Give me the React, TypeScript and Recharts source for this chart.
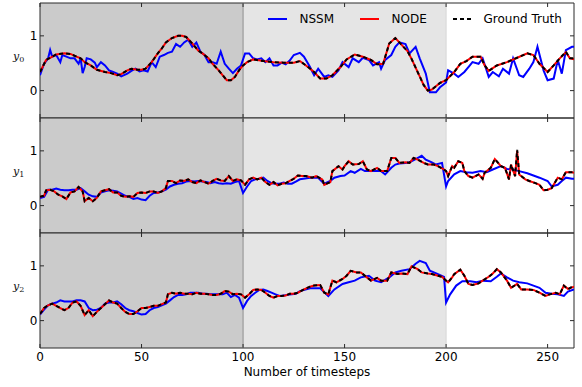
import React from 'react';
import { LineChart, Line, XAxis, YAxis, ReferenceArea, ReferenceLine } from 'recharts';

// ---------- data: [timestep, value] ----------
const X_TICKS = [0, 50, 100, 150, 200, 250];
const Y_TICKS = [0, 1];
const PANEL_LABELS = ['0', '1', '2'];
const SERIES_NAMES = ['NSSM', 'NODE', 'Ground Truth'];

const y0Truth: number[][] = [[0,.34],[3,.56],[5,.60],[8,.66],[12,.68],[15,.67],[18,.62],[20,.59],[22,.52],[25,.46],[28,.38],[32,.34],[35,.32],[38,.28],[40,.30],[43,.37],[45,.40],[48,.38],[50,.38],[52,.40],[55,.52],[58,.68],[60,.77],[62,.88],[65,.96],[68,1.0],[70,1.0],[72,.98],[75,.86],[78,.73],[80,.68],[83,.59],[85,.49],[88,.37],[90,.28],[92,.19],[94,.19],[96,.25],[98,.37],[100,.46],[102,.52],[105,.57],[110,.54],[115,.52],[120,.51],[125,.51],[128,.54],[131,.46],[135,.34],[138,.22],[141,.22],[144,.28],[148,.43],[151,.57],[155,.66],[159,.62],[163,.56],[166,.48],[169,.49],[172,.86],[175,.96],[177,.88],[179,.80],[181,.72],[183,.58],[185,.42],[187,.26],[189,.10],[191,.0],[193,.02],[195,.08],[197,.14],[200,.19],[204,.34],[207,.49],[210,.54],[213,.62],[217,.62],[219,.46],[221,.36],[225,.46],[230,.52],[235,.60],[240,.68],[243,.65],[246,.49],[250,.34],[253,.46],[256,.59],[259,.71],[261,.59],[263,.59]];
const y0Node: number[][] = [[0,.34],[3,.56],[5,.60],[8,.66],[12,.68],[15,.67],[18,.62],[20,.59],[22,.52],[25,.46],[28,.38],[32,.34],[35,.32],[38,.28],[40,.30],[43,.37],[45,.40],[48,.38],[50,.38],[52,.40],[55,.52],[58,.68],[60,.77],[62,.88],[65,.96],[68,1.0],[70,1.0],[72,.98],[75,.86],[78,.73],[80,.68],[83,.59],[85,.49],[88,.37],[90,.28],[92,.19],[94,.19],[96,.25],[98,.37],[100,.46],[102,.52],[105,.57],[110,.54],[115,.52],[120,.51],[125,.51],[128,.54],[131,.46],[135,.34],[138,.22],[141,.22],[144,.28],[148,.43],[151,.57],[155,.66],[159,.62],[163,.56],[166,.48],[169,.49],[172,.86],[175,.96],[177,.88],[179,.80],[181,.72],[183,.58],[185,.42],[187,.26],[189,.10],[191,.0],[193,.02],[195,.08],[197,.14],[200,.19],[204,.34],[207,.49],[210,.54],[213,.62],[217,.62],[219,.46],[221,.36],[225,.46],[230,.52],[235,.60],[240,.68],[243,.65],[246,.49],[250,.34],[253,.46],[256,.59],[259,.70],[261,.59],[263,.57]];
const y0Nssm: number[][] = [[0,.28],[2,.49],[4,.59],[5,.74],[6,.62],[8,.65],[10,.52],[11,.65],[13,.62],[15,.59],[17,.59],[19,.49],[20,.59],[21,.32],[22,.43],[23,.59],[25,.57],[27,.51],[28,.43],[30,.52],[32,.46],[34,.37],[36,.34],[38,.31],[40,.26],[43,.31],[45,.36],[47,.40],[49,.35],[51,.37],[53,.35],[55,.52],[57,.43],[59,.62],[61,.65],[63,.69],[65,.71],[67,.85],[69,.80],[71,.88],[73,.93],[75,.80],[77,.88],[79,.71],[81,.65],[83,.52],[85,.52],[87,.49],[89,.71],[91,.49],[93,.40],[95,.32],[97,.40],[99,.46],[101,.68],[103,.68],[105,.59],[107,.57],[109,.59],[111,.52],[113,.59],[115,.46],[117,.46],[119,.51],[121,.48],[123,.55],[125,.65],[128,.69],[130,.62],[133,.43],[135,.28],[137,.40],[140,.25],[142,.28],[144,.25],[147,.37],[149,.52],[152,.43],[154,.59],[157,.52],[159,.60],[162,.56],[164,.46],[167,.52],[168,.40],[170,.56],[173,.65],[175,.80],[177,.88],[180,.85],[182,.68],[185,.80],[187,.59],[190,.31],[192,-.03],[195,-.03],[197,.06],[200,.15],[201,.37],[204,.31],[206,.25],[209,.34],[211,.43],[213,.52],[216,.49],[218,.59],[221,.25],[223,.34],[226,.26],[228,.40],[231,.31],[233,.59],[236,.28],[238,.25],[241,.40],[243,.52],[245,.80],[248,.37],[250,.19],[253,.22],[255,.56],[257,.31],[259,.74],[262,.80],[263,.80]];

const y1Truth: number[][] = [[0,.16],[2,.18],[3,.28],[5,.29],[7,.26],[9,.20],[11,.17],[13,.12],[15,.24],[17,.26],[19,.34],[21,.26],[22,.08],[24,.14],[26,.08],[28,.14],[30,.26],[32,.28],[34,.30],[36,.24],[38,.24],[40,.18],[42,.16],[44,.17],[46,.16],[48,.23],[50,.24],[52,.23],[54,.26],[56,.26],[58,.23],[60,.26],[62,.32],[63,.45],[65,.45],[67,.41],[69,.46],[71,.45],[73,.48],[75,.43],[77,.41],[79,.46],[81,.43],[83,.40],[85,.45],[87,.49],[89,.46],[91,.45],[93,.54],[95,.45],[97,.48],[99,.46],[101,.38],[103,.48],[105,.51],[107,.48],[109,.51],[111,.43],[113,.38],[115,.43],[117,.37],[119,.40],[121,.41],[123,.45],[125,.49],[127,.55],[129,.54],[131,.54],[134,.51],[136,.54],[139,.48],[140,.38],[143,.43],[144,.63],[147,.72],[149,.66],[150,.72],[152,.81],[154,.75],[157,.76],[159,.81],[161,.66],[163,.63],[166,.69],[168,.63],[171,.63],[173,.87],[175,.87],[177,.78],[180,.79],[182,.78],[184,.87],[186,.84],[189,.78],[191,.75],[194,.75],[196,.72],[199,.66],[200,.63],[201,.54],[203,.72],[204,.69],[206,.81],[208,.78],[209,.63],[211,.54],[213,.51],[216,.57],[218,.49],[219,.60],[222,.69],[224,.85],[227,.72],[229,.69],[231,.48],[232,.75],[234,.54],[235,1.02],[236,.57],[239,.48],[241,.45],[244,.41],[246,.38],[248,.28],[250,.29],[252,.32],[255,.51],[257,.48],[259,.61],[262,.61],[263,.61]];
const y1Node: number[][] = [[0,.16],[2,.18],[3,.28],[5,.29],[7,.26],[9,.20],[11,.17],[13,.12],[15,.24],[17,.26],[19,.34],[21,.26],[22,.08],[24,.14],[26,.08],[28,.14],[30,.26],[32,.28],[34,.30],[36,.24],[38,.24],[40,.18],[42,.16],[44,.17],[46,.16],[48,.23],[50,.24],[52,.23],[54,.26],[56,.26],[58,.23],[60,.26],[62,.32],[63,.45],[65,.45],[67,.41],[69,.46],[71,.45],[73,.48],[75,.43],[77,.41],[79,.46],[81,.43],[83,.40],[85,.45],[87,.49],[89,.46],[91,.45],[93,.54],[95,.45],[97,.48],[99,.46],[101,.38],[103,.48],[105,.51],[107,.48],[109,.51],[111,.43],[113,.38],[115,.43],[117,.37],[119,.40],[121,.41],[123,.45],[125,.49],[127,.55],[129,.54],[131,.54],[134,.51],[136,.54],[139,.48],[140,.38],[143,.43],[144,.63],[147,.72],[149,.66],[150,.72],[152,.81],[154,.75],[157,.76],[159,.81],[161,.66],[163,.63],[166,.69],[168,.63],[171,.63],[173,.87],[175,.87],[177,.78],[180,.79],[182,.78],[184,.87],[186,.84],[189,.78],[191,.75],[194,.75],[196,.72],[199,.66],[200,.63],[201,.54],[203,.72],[204,.69],[206,.81],[208,.78],[209,.63],[211,.54],[213,.51],[216,.57],[218,.49],[219,.60],[222,.69],[224,.85],[227,.72],[229,.69],[231,.48],[232,.75],[234,.54],[235,1.0],[236,.57],[239,.48],[241,.45],[244,.41],[246,.38],[248,.28],[250,.29],[252,.32],[255,.51],[257,.48],[259,.61],[262,.61],[263,.60]];
const y1Nssm: number[][] = [[0,.14],[2,.16],[4,.29],[6,.29],[8,.31],[10,.29],[12,.28],[14,.28],[16,.29],[18,.29],[20,.32],[22,.26],[24,.20],[26,.17],[28,.16],[30,.24],[32,.26],[34,.28],[36,.27],[38,.26],[40,.22],[42,.18],[44,.16],[46,.12],[48,.14],[50,.11],[52,.10],[54,.18],[56,.23],[58,.24],[60,.26],[62,.29],[64,.35],[66,.38],[68,.40],[70,.41],[72,.44],[74,.45],[76,.44],[78,.45],[80,.44],[82,.43],[84,.41],[86,.43],[88,.41],[90,.40],[92,.41],[94,.40],[96,.43],[98,.45],[100,.23],[102,.35],[104,.45],[106,.48],[108,.49],[110,.51],[112,.45],[114,.41],[116,.40],[118,.40],[120,.42],[122,.40],[124,.40],[126,.44],[128,.48],[133,.51],[137,.51],[140,.40],[143,.45],[145,.51],[148,.54],[150,.55],[153,.63],[155,.60],[158,.67],[160,.63],[163,.63],[165,.63],[168,.63],[170,.57],[173,.69],[175,.75],[177,.77],[180,.78],[182,.79],[185,.85],[188,.91],[190,.84],[193,.79],[195,.75],[198,.78],[200,.35],[201,.45],[204,.57],[207,.63],[210,.61],[213,.60],[217,.63],[220,.61],[223,.66],[227,.72],[230,.67],[233,.66],[236,.63],[240,.59],[243,.55],[246,.51],[250,.45],[252,.35],[255,.38],[257,.45],[259,.51],[262,.49],[263,.49]];

const y2Truth: number[][] = [[0,.12],[2,.23],[4,.28],[6,.31],[8,.27],[10,.23],[12,.19],[14,.23],[16,.33],[18,.35],[20,.27],[22,.10],[24,.19],[26,.08],[28,.16],[30,.23],[32,.30],[34,.37],[36,.33],[38,.31],[40,.23],[42,.16],[44,.12],[46,.12],[48,.17],[50,.23],[52,.23],[54,.25],[56,.27],[58,.27],[60,.30],[62,.33],[63,.48],[65,.51],[67,.49],[69,.51],[71,.49],[73,.49],[75,.48],[77,.51],[79,.49],[81,.49],[83,.48],[85,.47],[87,.47],[89,.49],[91,.54],[93,.53],[95,.48],[97,.49],[99,.48],[101,.42],[103,.48],[105,.56],[107,.57],[109,.56],[111,.51],[113,.45],[115,.42],[117,.45],[119,.45],[121,.46],[123,.49],[125,.49],[127,.51],[130,.57],[133,.62],[135,.64],[138,.65],[140,.51],[142,.48],[144,.73],[146,.70],[149,.76],[151,.82],[153,.91],[156,.88],[158,.88],[161,.79],[163,.73],[166,.78],[168,.73],[171,.73],[173,.88],[176,.85],[178,.86],[181,.85],[183,.99],[186,.94],[188,.88],[191,.86],[193,.85],[196,.82],[198,.80],[200,.73],[201,.70],[203,.79],[204,.85],[207,.93],[209,.82],[211,.67],[213,.65],[216,.68],[218,.73],[221,.80],[223,.86],[225,.94],[227,.88],[230,.73],[232,.60],[235,.67],[237,.57],[240,.57],[243,.56],[246,.51],[249,.45],[251,.48],[254,.51],[256,.48],[258,.64],[260,.57],[263,.64]];
const y2Node: number[][] = [[0,.12],[2,.23],[4,.28],[6,.31],[8,.27],[10,.23],[12,.19],[14,.23],[16,.33],[18,.35],[20,.27],[22,.10],[24,.19],[26,.08],[28,.16],[30,.23],[32,.30],[34,.37],[36,.33],[38,.31],[40,.23],[42,.16],[44,.12],[46,.12],[48,.17],[50,.23],[52,.23],[54,.25],[56,.27],[58,.27],[60,.30],[62,.33],[63,.48],[65,.51],[67,.49],[69,.51],[71,.49],[73,.49],[75,.48],[77,.51],[79,.49],[81,.49],[83,.48],[85,.47],[87,.47],[89,.49],[91,.54],[93,.53],[95,.48],[97,.49],[99,.48],[101,.42],[103,.48],[105,.56],[107,.57],[109,.56],[111,.51],[113,.45],[115,.42],[117,.45],[119,.45],[121,.46],[123,.49],[125,.49],[127,.51],[130,.57],[133,.62],[135,.64],[138,.65],[140,.51],[142,.48],[144,.73],[146,.70],[149,.76],[151,.82],[153,.91],[156,.88],[158,.88],[161,.79],[163,.73],[166,.78],[168,.73],[171,.73],[173,.88],[176,.85],[178,.86],[181,.85],[183,.99],[186,.94],[188,.88],[191,.86],[193,.85],[196,.82],[198,.80],[200,.73],[201,.70],[203,.79],[204,.85],[207,.93],[209,.82],[211,.67],[213,.65],[216,.68],[218,.73],[221,.80],[223,.86],[225,.94],[227,.88],[230,.73],[232,.60],[235,.67],[237,.57],[240,.57],[243,.56],[246,.51],[249,.45],[251,.48],[254,.51],[256,.48],[258,.64],[260,.58],[263,.62]];
const y2Nssm: number[][] = [[0,.11],[2,.20],[4,.28],[6,.31],[8,.33],[10,.37],[12,.35],[14,.35],[16,.35],[18,.37],[20,.37],[22,.35],[24,.23],[26,.19],[28,.20],[30,.23],[32,.31],[34,.33],[36,.33],[38,.35],[40,.30],[42,.23],[44,.19],[46,.17],[48,.14],[50,.11],[52,.12],[54,.19],[56,.23],[58,.25],[60,.28],[62,.31],[64,.37],[66,.43],[68,.47],[70,.47],[72,.48],[74,.51],[76,.51],[78,.51],[80,.49],[82,.49],[84,.48],[86,.48],[88,.48],[90,.48],[92,.51],[94,.43],[96,.47],[98,.42],[100,.23],[102,.36],[104,.45],[106,.51],[108,.56],[110,.57],[112,.54],[114,.51],[116,.48],[118,.45],[120,.46],[122,.47],[124,.48],[126,.49],[128,.54],[133,.59],[138,.59],[142,.45],[145,.57],[149,.67],[152,.70],[155,.73],[158,.79],[162,.82],[165,.73],[168,.70],[172,.79],[175,.88],[178,.91],[182,.94],[185,1.04],[187,1.09],[190,1.05],[192,.91],[196,.85],[199,.80],[200,.33],[202,.48],[205,.64],[208,.72],[212,.72],[215,.70],[218,.73],[222,.72],[225,.80],[227,.86],[230,.79],[233,.73],[236,.70],[240,.68],[243,.64],[246,.60],[249,.51],[252,.49],[255,.48],[258,.45],[260,.53],[263,.57]];

const PANELS = [
  { nssm: y0Nssm, node: y0Node, truth: y0Truth },
  { nssm: y1Nssm, node: y1Node, truth: y1Truth },
  { nssm: y2Nssm, node: y2Node, truth: y2Truth },
];

// ---------- layout ----------
const W = 582;
const H = 387;
const LEFT = 40;
const RIGHT = 574;
const TOPS = [3, 118, 233];
const PH = 115;
const X_AXIS_H = 20;
const FONT = 'DejaVu Sans, sans-serif';
const SPINE = '#2a2a2a';

function merge(p: { nssm: number[][]; node: number[][]; truth: number[][] }) {
  const map = new Map<number, any>();
  const add = (arr: number[][], key: string) => {
    arr.forEach(([t, v]) => {
      if (!map.has(t)) map.set(t, { t });
      map.get(t)[key] = v;
    });
  };
  add(p.nssm, 'nssm');
  add(p.node, 'node');
  add(p.truth, 'truth');
  return Array.from(map.values()).sort((a, b) => a.t - b.t);
}

function makeXTick(top: number, bottom: number, showLabel: boolean) {
  return (props: any) => {
    const { x, payload } = props;
    return (
      <g>
        <line x1={x} x2={x} y1={top} y2={top + 4} stroke={SPINE} strokeWidth={1} />
        <line x1={x} x2={x} y1={bottom - 4} y2={bottom} stroke={SPINE} strokeWidth={1} />
        {showLabel && (
          <text x={x} y={bottom + 13} textAnchor="middle" fontSize={12} fontFamily={FONT} fill="#000">
            {payload.value}
          </text>
        )}
      </g>
    );
  };
}

const YTick = (props: any) => {
  const { y, payload } = props;
  return (
    <g>
      <line x1={LEFT} x2={LEFT + 4} y1={y} y2={y} stroke={SPINE} strokeWidth={1} />
      <line x1={RIGHT - 4} x2={RIGHT} y1={y} y2={y} stroke={SPINE} strokeWidth={1} />
      <text x={37.5} y={y + 4.4} textAnchor="end" fontSize={12} fontFamily={FONT} fill="#000">
        {payload.value}
      </text>
    </g>
  );
};

function Panel({ idx }: { idx: number }) {
  const top = TOPS[idx];
  const bottom = top + PH;
  const data = merge(PANELS[idx]);
  return (
    <div style={{ position: 'absolute', left: 0, top: 0, width: W, height: H }}>
      <LineChart
        width={W}
        height={H}
        data={data}
        margin={{ top, right: W - RIGHT, left: 0, bottom: H - bottom - X_AXIS_H }}
      >
        <XAxis
          dataKey="t"
          type="number"
          domain={[0, 263]}
          ticks={X_TICKS}
          allowDataOverflow
          axisLine={false}
          tickLine={false}
          height={X_AXIS_H}
          interval={0}
          tick={makeXTick(top, bottom, idx === 2)}
        />
        <YAxis
          type="number"
          domain={[-0.5, 1.6]}
          ticks={Y_TICKS}
          allowDataOverflow
          axisLine={false}
          tickLine={false}
          width={LEFT}
          interval={0}
          tick={<YTick />}
        />
        <ReferenceArea x1={0} x2={100} y1={-0.5} y2={1.6} fill="#cbcbcb" fillOpacity={1} stroke="none" />
        <ReferenceArea x1={100} x2={200} y1={-0.5} y2={1.6} fill="#e5e5e5" fillOpacity={1} stroke="none" />
        <ReferenceLine x={100} stroke="#a6a6a6" strokeWidth={1.5} />
        <ReferenceLine x={200} stroke="#d6d6d6" strokeWidth={1} />
        <Line dataKey="nssm" name={SERIES_NAMES[0]} stroke="#0000ff" strokeWidth={2} dot={false} activeDot={false} connectNulls isAnimationActive={false} />
        <Line dataKey="node" name={SERIES_NAMES[1]} stroke="#ff0000" strokeWidth={2} dot={false} activeDot={false} connectNulls isAnimationActive={false} />
        <Line dataKey="truth" name={SERIES_NAMES[2]} stroke="#000000" strokeWidth={2} strokeDasharray="4 3" dot={false} activeDot={false} connectNulls isAnimationActive={false} />
        <ReferenceArea x1={0} x2={263} y1={-0.5} y2={1.6} fill="none" stroke={SPINE} strokeWidth={1} />
      </LineChart>
    </div>
  );
}

function Overlay() {
  return (
    <svg width={W} height={H} style={{ position: 'absolute', left: 0, top: 0 }}>
      {TOPS.map((top, i) => (
        <text key={i} x={13} y={top + PH / 2 - 1} fontSize={11} fontFamily="DejaVu Serif, serif" fontStyle="italic" fill="#111">
          y
          <tspan fontSize={8} dy={2} fontStyle="normal">{PANEL_LABELS[i]}</tspan>
        </text>
      ))}
      <text x={(LEFT + RIGHT) / 2} y={375.5} textAnchor="middle" fontSize={12} fontFamily={FONT} fill="#000">
        Number of timesteps
      </text>
      {/* legend */}
      <line x1={268} x2={287} y1={19} y2={19} stroke="#0000ff" strokeWidth={2} />
      <text x={299.5} y={23.3} fontSize={12} fontFamily={FONT} fill="#000">{SERIES_NAMES[0]}</text>
      <line x1={360} x2={379} y1={19} y2={19} stroke="#ff0000" strokeWidth={2} />
      <text x={391.5} y={23.3} fontSize={12} fontFamily={FONT} fill="#000">{SERIES_NAMES[1]}</text>
      <line x1={453} x2={473} y1={19} y2={19} stroke="#000" strokeWidth={2} strokeDasharray="4 3" />
      <text x={483.5} y={23.3} fontSize={12} fontFamily={FONT} fill="#000">{SERIES_NAMES[2]}</text>
    </svg>
  );
}

export default function App() {
  return (
    <div style={{ position: 'absolute', left: 0, top: 0, width: W, height: H, background: '#fff', fontFamily: FONT }}>
      <Panel idx={0} />
      <Panel idx={1} />
      <Panel idx={2} />
      <Overlay />
    </div>
  );
}
